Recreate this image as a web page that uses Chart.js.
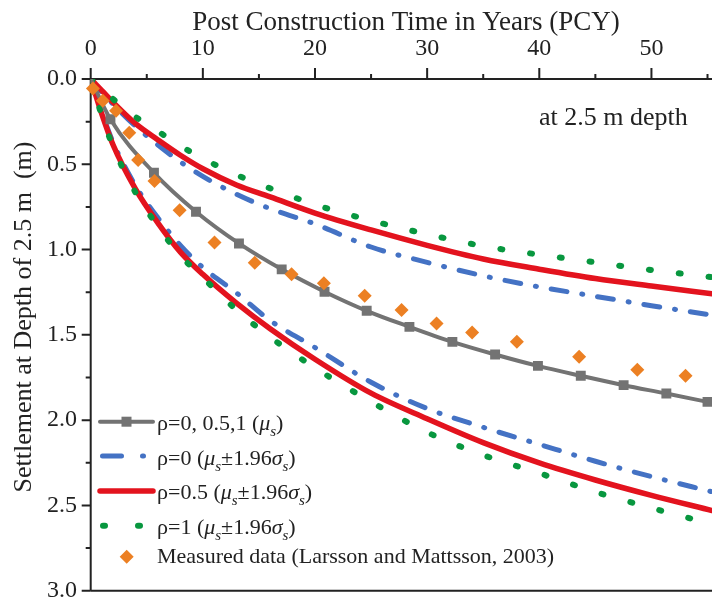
<!DOCTYPE html>
<html>
<head>
<meta charset="utf-8">
<script src="https://cdn.jsdelivr.net/npm/chart.js@4.4.1/dist/chart.umd.min.js"></script>
<style>
  html, body { margin: 0; padding: 0; background: #fff; }
  #wrap { width: 719px; height: 600px; }
</style>
</head>
<body>
<div id="wrap"><canvas id="chart" width="719" height="600"></canvas></div>
<script>
// years at which the six bound curves are sampled
const curveYears = [0, 1, 2, 4, 6, 8, 10, 13, 16, 20, 25, 30, 35, 40, 45, 50, 55.4];

// mu_s - 1.96 sigma_s (smaller settlement) and mu_s + 1.96 sigma_s (larger settlement)
const rho0Low   = [0, 0.078, 0.148, 0.277, 0.387, 0.486, 0.571, 0.676, 0.760, 0.850, 0.985, 1.075, 1.154, 1.219, 1.274, 1.329, 1.384];
const rho0High  = [0, 0.197, 0.372, 0.626, 0.815, 0.975, 1.105, 1.254, 1.416, 1.574, 1.778, 1.932, 2.042, 2.142, 2.241, 2.331, 2.420];
const rho05Low  = [0, 0.068, 0.137, 0.262, 0.357, 0.447, 0.526, 0.621, 0.691, 0.786, 0.885, 0.975, 1.055, 1.115, 1.170, 1.214, 1.259];
const rho05High = [0, 0.207, 0.387, 0.646, 0.845, 1.015, 1.145, 1.314, 1.464, 1.643, 1.842, 1.992, 2.132, 2.251, 2.351, 2.441, 2.530];
const rho1Low   = [0, 0.058, 0.118, 0.222, 0.307, 0.392, 0.466, 0.562, 0.641, 0.736, 0.830, 0.910, 0.980, 1.030, 1.075, 1.120, 1.162];
const rho1High  = [0, 0.217, 0.397, 0.666, 0.865, 1.035, 1.164, 1.354, 1.513, 1.693, 1.892, 2.071, 2.205, 2.311, 2.421, 2.515, 2.610];

// mean curve (rho = 0, 0.5, 1)
const meanYears  = [0, 1.76, 5.64, 9.39, 13.22, 17.03, 20.85, 24.61, 28.42, 32.25, 36.06, 39.88, 43.7, 47.52, 51.33, 55.0];
const meanSettle = [0, 0.236, 0.550, 0.778, 0.964, 1.116, 1.247, 1.359, 1.453, 1.541, 1.615, 1.682, 1.740, 1.795, 1.844, 1.893];

// measured data (Larsson and Mattsson, 2003)
const measYears  = [0.2, 1.08, 2.26, 3.44, 4.23, 5.69, 7.93, 11.04, 14.63, 17.91, 20.79, 24.43, 27.72, 30.84, 34.01, 38.0, 43.55, 48.74, 53.04];
const measSettle = [0.055, 0.127, 0.186, 0.315, 0.475, 0.598, 0.770, 0.958, 1.077, 1.144, 1.198, 1.271, 1.355, 1.433, 1.486, 1.541, 1.629, 1.705, 1.740];

const xTicks = [0, 5, 10, 15, 20, 25, 30, 35, 40, 45, 50, 55];
const yTicks = [0, 0.25, 0.5, 0.75, 1, 1.25, 1.5, 1.75, 2, 2.25, 2.5, 2.75, 3];

const GRAY = '#737373', BLUE = '#4472C4', RED = '#E3131E', GREEN = '#08973F', ORANGE = '#EC8023';
const INK = '#222222';
const SERIF = '"Liberation Serif", "Times New Roman", serif';
const BLUE_DASH = [16, 15, 1, 15];
const GREEN_DOT = [2, 28];

function pts(xs, ys) {
    return xs.map((x, i) => ({ x: x, y: ys[i] }));
}

function curve(ys, color, width, dash, order) {
    return {
        data: pts(curveYears, ys),
        borderColor: color,
        borderWidth: width,
        borderDash: dash,
        borderCapStyle: 'round',
        pointRadius: 0,
        cubicInterpolationMode: 'monotone',
        fill: false,
        order: order
    };
}

const datasets = [
    curve(rho0Low, BLUE, 5, BLUE_DASH, 5),
    curve(rho0High, BLUE, 5, BLUE_DASH, 5),
    curve(rho05Low, RED, 5.5, [], 4),
    curve(rho05High, RED, 5.5, [], 4),
    curve(rho1Low, GREEN, 6, GREEN_DOT, 3),
    curve(rho1High, GREEN, 6, GREEN_DOT, 3),
    {
        data: pts(meanYears, meanSettle),
        borderColor: GRAY,
        borderWidth: 4,
        pointStyle: 'rect',
        pointRadius: meanYears.map((x, i) => i === 0 ? 0 : 7),
        pointBackgroundColor: GRAY,
        pointBorderWidth: 0,
        cubicInterpolationMode: 'monotone',
        fill: false,
        order: 2
    },
    {
        data: pts(measYears, measSettle),
        showLine: false,
        pointStyle: 'rectRot',
        pointRadius: 7,
        pointBackgroundColor: ORANGE,
        pointBorderWidth: 0,
        order: 1,
        clip: false
    }
];

// axes frame and tick marks (outside ticks, long major / short minor)
const framePlugin = {
    id: 'frame',
    beforeDatasetsDraw(chart) {
        const ctx = chart.ctx;
        const a = chart.chartArea;
        const xs = chart.scales.x, ys = chart.scales.y;
        ctx.save();
        ctx.strokeStyle = INK;
        ctx.lineWidth = 2;
        ctx.beginPath();
        ctx.moveTo(a.left, a.bottom);
        ctx.lineTo(a.left, a.top);
        ctx.lineTo(a.right, a.top);
        ctx.moveTo(a.left, a.bottom);
        ctx.lineTo(a.right, a.bottom);
        ctx.stroke();
        ctx.beginPath();
        xTicks.forEach(v => {
            const px = xs.getPixelForValue(v);
            const len = v % 10 === 0 ? 11 : 5;
            ctx.moveTo(px, a.top);
            ctx.lineTo(px, a.top - len);
        });
        yTicks.forEach(v => {
            const py = ys.getPixelForValue(v);
            const len = Math.round(v * 100) % 50 === 0 ? 9 : 5;
            ctx.moveTo(a.left, py);
            ctx.lineTo(a.left - len, py);
        });
        ctx.stroke();
        ctx.restore();
    },
    afterDraw(chart) {
        const ctx = chart.ctx;
        ctx.save();
        ctx.fillStyle = INK;
        ctx.textBaseline = 'alphabetic';

        // top axis title
        ctx.font = '27px ' + SERIF;
        ctx.textAlign = 'center';
        ctx.fillText('Post Construction Time in Years (PCY)', 406, 30);

        // left axis title
        ctx.font = '26px ' + SERIF;
        ctx.save();
        ctx.translate(31, 317);
        ctx.rotate(-Math.PI / 2);
        ctx.fillText('Settlement at Depth of 2.5 m  (m)', 0, 0);
        ctx.restore();

        // annotation
        ctx.textAlign = 'left';
        ctx.fillText('at 2.5 m depth', 539, 125);

        drawLegend(ctx);
        ctx.restore();
    }
};

function richText(ctx, x, y, parts) {
    parts.forEach(p => {
        const size = p.sub ? 15 : 22;
        ctx.font = (p.it ? 'italic ' : '') + size + 'px ' + SERIF;
        ctx.fillText(p.t, x, y + (p.sub ? 6 : 0));
        x += ctx.measureText(p.t).width;
    });
}

function bandLabel(prefix) {
    return [
        { t: prefix + ' (' }, { t: 'μ', it: true }, { t: 's', it: true, sub: true },
        { t: '±1.96' }, { t: 'σ', it: true }, { t: 's', it: true, sub: true }, { t: ')' }
    ];
}

function drawLegend(ctx) {
    const x0 = 100, x1 = 153, tx = 157;
    ctx.lineCap = 'round';

    // mean
    ctx.strokeStyle = GRAY; ctx.lineWidth = 4; ctx.setLineDash([]);
    ctx.beginPath(); ctx.moveTo(x0, 421.7); ctx.lineTo(x1, 421.7); ctx.stroke();
    ctx.fillStyle = GRAY; ctx.fillRect(121.5, 416.7, 10, 10);

    // rho = 0
    ctx.strokeStyle = BLUE; ctx.lineWidth = 5; ctx.setLineDash([19, 21, 1, 30]);
    ctx.beginPath(); ctx.moveTo(102.5, 456); ctx.lineTo(x1, 456); ctx.stroke();

    // rho = 0.5
    ctx.strokeStyle = RED; ctx.lineWidth = 5.5; ctx.setLineDash([]);
    ctx.beginPath(); ctx.moveTo(x0, 491); ctx.lineTo(x1, 491); ctx.stroke();

    // rho = 1
    ctx.strokeStyle = GREEN; ctx.lineWidth = 6; ctx.setLineDash([2, 33]);
    ctx.beginPath(); ctx.moveTo(103, 525.7); ctx.lineTo(x1, 525.7); ctx.stroke();
    ctx.setLineDash([]);

    // measured
    ctx.fillStyle = ORANGE;
    ctx.beginPath();
    ctx.moveTo(126.7, 549.7); ctx.lineTo(133.7, 556.7); ctx.lineTo(126.7, 563.7); ctx.lineTo(119.7, 556.7);
    ctx.closePath(); ctx.fill();

    ctx.fillStyle = INK;
    richText(ctx, tx, 430, [{ t: 'ρ=0, 0.5,1 (' }, { t: 'μ', it: true }, { t: 's', it: true, sub: true }, { t: ')' }]);
    richText(ctx, tx, 465, bandLabel('ρ=0'));
    richText(ctx, tx, 499.3, bandLabel('ρ=0.5'));
    richText(ctx, tx, 534, bandLabel('ρ=1'));
    richText(ctx, tx, 563.3, [{ t: 'Measured data (Larsson and Mattsson, 2003)' }]);
}

new Chart(document.getElementById('chart').getContext('2d'), {
    type: 'line',
    data: { datasets: datasets },
    options: {
        responsive: false,
        animation: false,
        devicePixelRatio: 1,
        layout: { padding: { left: 0, right: 0, top: 0, bottom: 9.3 } },
        plugins: { legend: { display: false }, tooltip: { enabled: false } },
        scales: {
            x: {
                type: 'linear',
                position: 'top',
                min: 0,
                max: 55.4,
                afterBuildTicks: s => { s.ticks = xTicks.map(v => ({ value: v })); },
                afterFit: s => {
                    s.height = 79;
                    s.paddingLeft = 0; s.paddingRight = 0; s.paddingTop = 0; s.paddingBottom = 0;
                },
                grid: { display: false, drawTicks: false },
                border: { display: false },
                ticks: {
                    autoSkip: false,
                    maxRotation: 0,
                    padding: 16,
                    color: INK,
                    font: { family: SERIF, size: 24 },
                    callback: v => v % 10 === 0 ? String(v) : ''
                }
            },
            y: {
                type: 'linear',
                reverse: true,
                min: 0,
                max: 3,
                afterBuildTicks: s => { s.ticks = yTicks.map(v => ({ value: v })); },
                afterFit: s => {
                    s.width = 90.7;
                    s.paddingLeft = 0; s.paddingRight = 0; s.paddingTop = 0; s.paddingBottom = 0;
                },
                grid: { display: false, drawTicks: false },
                border: { display: false },
                ticks: {
                    autoSkip: false,
                    padding: 13.7,
                    color: INK,
                    font: { family: SERIF, size: 24 },
                    callback: v => Math.round(v * 100) % 50 === 0 ? v.toFixed(1) : ''
                }
            }
        }
    },
    plugins: [framePlugin]
});
</script>
</body>
</html>
